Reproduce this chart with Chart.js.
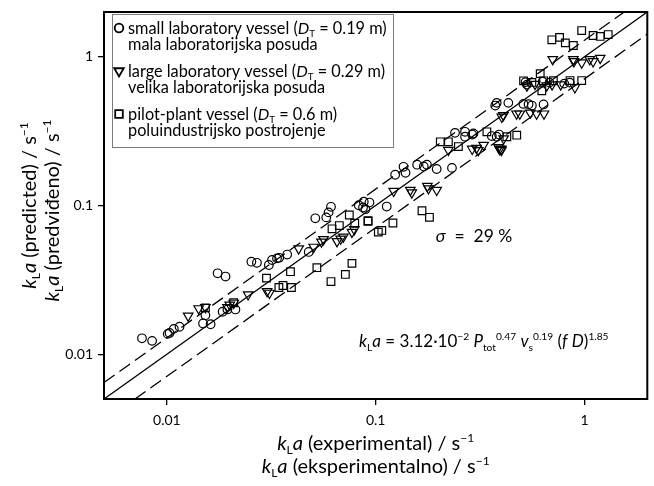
<!DOCTYPE html>
<html>
<head>
<meta charset="utf-8">
<script src="https://cdn.jsdelivr.net/npm/chart.js@4.4.1/dist/chart.umd.min.js"></script>
<style>
  html, body { margin: 0; padding: 0; background: #fff; }
  #wrap { position: relative; width: 654px; height: 486px; }
</style>
</head>
<body>
<div id="wrap"><canvas id="kla"></canvas></div>
<script>
// kLa predicted vs experimental, both in s^-1
const smallVessel = [
  [0.0076, 0.0128], [0.0085, 0.0123], [0.0101, 0.0137], [0.0103, 0.0139], [0.0108, 0.0148],
  [0.0115, 0.0153], [0.0149, 0.0161], [0.0153, 0.0183], [0.0162, 0.0159], [0.0175, 0.035],
  [0.0191, 0.0333], [0.0185, 0.0193], [0.0195, 0.020], [0.0213, 0.020], [0.0254, 0.0419],
  [0.027, 0.0412], [0.0308, 0.0398], [0.0319, 0.043], [0.0337, 0.0441], [0.0345, 0.0445],
  [0.0377, 0.0468], [0.0478, 0.0487], [0.0514, 0.082], [0.058, 0.0832], [0.0595, 0.0899],
  [0.0611, 0.098], [0.083, 0.1004], [0.0893, 0.0944], [0.0934, 0.1047], [0.087, 0.097],
  [0.0877, 0.106], [0.113, 0.0984], [0.124, 0.161], [0.136, 0.182], [0.139, 0.166],
  [0.158, 0.188], [0.17, 0.183], [0.176, 0.188], [0.196, 0.176], [0.232, 0.179],
  [0.24, 0.308], [0.268, 0.313], [0.29, 0.30], [0.294, 0.305], [0.268, 0.29],
  [0.36, 0.293], [0.39, 0.30], [0.374, 0.47], [0.38, 0.49], [0.432, 0.49],
  [0.51, 0.482], [0.54, 0.48], [0.56, 0.47], [0.637, 0.478], [0.522, 0.675],
  [0.53, 0.65], [0.63, 0.68], [0.68, 0.67], [0.85, 0.67], [0.80, 0.66], [0.38, 0.29]
];
const largeVessel = [
  [0.01265, 0.0181], [0.0142, 0.0203], [0.0153, 0.0207], [0.0195, 0.0207], [0.0200, 0.0215],
  [0.0209, 0.0221], [0.0245, 0.0252], [0.0302, 0.0265], [0.031, 0.0258], [0.0428, 0.0513],
  [0.0505, 0.0526], [0.0563, 0.0592], [0.055, 0.057], [0.0653, 0.0574], [0.068, 0.0597],
  [0.070, 0.0615], [0.077, 0.0662], [0.079, 0.069], [0.122, 0.125], [0.1466, 0.127],
  [0.149, 0.122], [0.177, 0.135], [0.179, 0.130], [0.196, 0.127], [0.223, 0.236],
  [0.29, 0.24], [0.304, 0.243], [0.31, 0.235], [0.329, 0.255], [0.392, 0.239],
  [0.40, 0.235], [0.41, 0.282], [0.402, 0.394], [0.705, 0.96], [0.885, 0.96],
  [0.89, 0.93], [0.97, 0.912], [1.06, 0.96], [1.1, 0.93], [1.19, 0.98],
  [0.53, 0.638], [0.58, 0.655], [0.66, 0.64], [0.70, 0.65], [0.77, 0.65],
  [0.90, 0.622], [0.409, 0.404], [0.473, 0.414], [0.49, 0.414], [0.55, 0.42],
  [0.59, 0.414], [0.64, 0.414], [0.388, 0.246], [0.40, 0.24]
];
const pilotPlant = [
  [0.0153, 0.0205], [0.0209, 0.0222], [0.030, 0.0325], [0.0344, 0.0281], [0.036, 0.029],
  [0.0395, 0.0281], [0.0391, 0.0359], [0.0523, 0.0382], [0.0611, 0.0308], [0.0716, 0.0344],
  [0.077, 0.0408], [0.0618, 0.0697], [0.067, 0.0733], [0.0748, 0.0863], [0.0794, 0.076],
  [0.0919, 0.0784], [0.103, 0.0662], [0.204, 0.268], [0.223, 0.268], [0.1667, 0.0922],
  [0.181, 0.0833], [0.092, 0.079], [0.121, 0.0763], [0.107, 0.068], [0.249, 0.249],
  [0.341, 0.313], [0.97, 1.50], [1.10, 1.39], [1.19, 1.37], [1.30, 1.41],
  [0.698, 1.30], [0.76, 1.35], [0.81, 1.24], [0.885, 1.19], [0.614, 0.77],
  [0.511, 0.689], [0.56, 0.672], [0.637, 0.689], [0.625, 0.591], [0.853, 0.692],
  [0.97, 0.692], [0.425, 0.29], [0.474, 0.297], [0.71, 0.69]
];

const axisRange = [0.005, 2];
const tickValues = [0.01, 0.1, 1];
const tickLabels = ['0.01', '0.1', '1'];
const sigma = 0.29;

const FONT = 'Lato';
const toPts = arr => arr.map(([x, y]) => ({ x, y }));
const lineThrough = f => axisRange.map(x => ({ x, y: x * f }));

// draws a run of text pieces: [text, flags] with flags containing i (italic), sub, sup
function richWidth(ctx, segs, size) {
  let w = 0;
  segs.forEach(([t, f = '']) => {
    const s = /sub|sup/.test(f) ? size * 0.6 : size;
    ctx.font = (f.includes('i') ? 'italic ' : '') + s + 'px ' + FONT;
    w += ctx.measureText(t).width;
  });
  return w;
}
function drawRich(ctx, segs, x, y, size, align) {
  let cx = align === 'center' ? x - richWidth(ctx, segs, size) / 2 : x;
  const base = y + size * 0.35;
  ctx.textBaseline = 'alphabetic';
  ctx.textAlign = 'left';
  segs.forEach(([t, f = '']) => {
    const small = /sub|sup/.test(f);
    const s = small ? size * 0.6 : size;
    ctx.font = (f.includes('i') ? 'italic ' : '') + s + 'px ' + FONT;
    let dy = 0;
    if (f.includes('sub')) dy = size * 0.22;
    if (f.includes('sup')) dy = -size * 0.4;
    ctx.fillText(t, cx, base + dy);
    cx += ctx.measureText(t).width;
  });
}

function marker(ctx, style, x, y) {
  ctx.beginPath();
  if (style === 'circle') {
    ctx.arc(x, y, 4.3, 0, Math.PI * 2);
  } else if (style === 'triangle') {
    const r = 5.5;
    ctx.moveTo(x - r * 0.866, y - r * 0.5);
    ctx.lineTo(x + r * 0.866, y - r * 0.5);
    ctx.lineTo(x, y + r);
    ctx.closePath();
  } else {
    ctx.rect(x - 3.8, y - 3.8, 7.6, 7.6);
  }
  ctx.stroke();
}

const legendRows = [
  { style: 'circle', y: 28, a: [['small laboratory vessel ('], ['D', 'i'], ['T', 'sub'], [' = 0.19 m)']], b: 'mala laboratorijska posuda' },
  { style: 'triangle', y: 71, a: [['large laboratory vessel ('], ['D', 'i'], ['T', 'sub'], [' = 0.29 m)']], b: 'velika laboratorijska posuda' },
  { style: 'rect', y: 114, a: [['pilot-plant vessel ('], ['D', 'i'], ['T', 'sub'], [' = 0.6 m)']], b: 'poluindustrijsko postrojenje' }
];

const decorations = {
  id: 'decorations',
  afterDraw(chart) {
    const ctx = chart.ctx;
    const a = chart.chartArea;
    ctx.save();
    ctx.fillStyle = '#000';
    ctx.strokeStyle = '#000';

    // frame
    ctx.lineWidth = 2;
    ctx.strokeRect(a.left, a.top, a.right - a.left, a.bottom - a.top);

    // legend box
    ctx.lineWidth = 1;
    ctx.strokeStyle = '#7a7a7a';
    ctx.fillStyle = '#fff';
    ctx.fillRect(112.5, 14.5, 281, 133);
    ctx.strokeRect(112.5, 14.5, 281, 133);
    ctx.strokeStyle = '#000';
    ctx.fillStyle = '#000';
    legendRows.forEach(r => {
      ctx.lineWidth = 1.8;
      marker(ctx, r.style, 119, r.y);
      drawRich(ctx, r.a, 128, r.y, 16.3, 'left');
      drawRich(ctx, [[r.b]], 128, r.y + 16, 16.3, 'left');
    });

    // annotations
    drawRich(ctx, [['σ', 'i'], ['  =  29 %']], 474, 236, 17.5, 'center');
    drawRich(ctx, [['k', 'i'], ['L', 'sub'], ['a', 'i'], [' = 3.12·10'], ['−2', 'sup'], [' '],
      ['P', 'i'], ['tot', 'sub'], ['0.47', 'sup'], [' '], ['v', 'i'], ['s', 'sub'], ['0.19', 'sup'],
      [' ('], ['f', 'i'], [' '], ['D', 'i'], [')'], ['1.85', 'sup']], 359, 341, 17, 'left');

    // x axis titles, centred under the plot
    const xc = (a.left + a.right) / 2;
    drawRich(ctx, [['k', 'i'], ['L', 'sub'], ['a', 'i'], [' (experimental) / s'], ['−1', 'sup']], xc, 443, 20, 'center');
    drawRich(ctx, [['k', 'i'], ['L', 'sub'], ['a', 'i'], [' (eksperimentalno) / s'], ['−1', 'sup']], xc, 466, 20, 'center');

    // y axis titles
    const yc = (a.top + a.bottom) / 2;
    ctx.save();
    ctx.translate(29, yc);
    ctx.rotate(-Math.PI / 2);
    drawRich(ctx, [['k', 'i'], ['L', 'sub'], ['a', 'i'], [' (predicted) / s'], ['−1', 'sup']], 0, 0, 20, 'center');
    ctx.restore();
    ctx.save();
    ctx.translate(52, yc + 5);
    ctx.rotate(-Math.PI / 2);
    drawRich(ctx, [['k', 'i'], ['L', 'sub'], ['a', 'i'], [' (predviđeno) / s'], ['−1', 'sup']], 0, 0, 20, 'center');
    ctx.restore();

    ctx.restore();
  }
};

const markerBase = { borderColor: '#000', backgroundColor: 'rgba(0,0,0,0)', pointBorderWidth: 1.2, pointHoverRadius: 0 };
const lineBase = { showLine: true, pointRadius: 0, borderColor: '#000', borderWidth: 1.3, clip: 0, fill: false };

new Chart(document.getElementById('kla'), {
  type: 'scatter',
  data: {
    datasets: [
      { ...lineBase, data: lineThrough(1) },
      { ...lineBase, data: lineThrough(1 + sigma), borderDash: [13, 6] },
      { ...lineBase, data: lineThrough(1 - sigma), borderDash: [13, 6] },
      { ...markerBase, label: 'small laboratory vessel', data: toPts(smallVessel), pointStyle: 'circle', pointRadius: 4.3 },
      { ...markerBase, label: 'large laboratory vessel', data: toPts(largeVessel), pointStyle: 'triangle', pointRotation: 180, pointRadius: 5.5 },
      { ...markerBase, label: 'pilot-plant vessel', data: toPts(pilotPlant), pointStyle: 'rect', pointRadius: 5.4 }
    ]
  },
  options: {
    responsive: true,
    maintainAspectRatio: false,
    animation: false,
    events: [],
    layout: { padding: { top: 7, right: 6, left: 0, bottom: 0 } },
    plugins: { legend: { display: false }, tooltip: { enabled: false } },
    scales: {
      x: {
        type: 'logarithmic',
        min: axisRange[0],
        max: axisRange[1],
        afterBuildTicks: s => { s.ticks = tickValues.map(v => ({ value: v })); },
        afterFit: s => { s.height = 87; },
        ticks: {
          autoSkip: false, maxRotation: 0, padding: 8, color: '#000',
          font: { family: FONT, size: 14, lineHeight: 1 },
          callback: (v, i) => tickLabels[i]
        },
        grid: { drawOnChartArea: false, tickLength: 6, color: '#000', lineWidth: 1.3 },
        border: { display: false }
      },
      y: {
        type: 'logarithmic',
        min: axisRange[0],
        max: axisRange[1],
        afterBuildTicks: s => { s.ticks = tickValues.map(v => ({ value: v })); },
        afterFit: s => { s.width = 104; },
        ticks: {
          autoSkip: false, padding: 5, color: '#000',
          font: { family: FONT, size: 14, lineHeight: 1 },
          callback: (v, i) => tickLabels[i]
        },
        grid: { drawOnChartArea: false, tickLength: 6, color: '#000', lineWidth: 1.3 },
        border: { display: false }
      }
    }
  },
  plugins: [decorations]
});
</script>
</body>
</html>
